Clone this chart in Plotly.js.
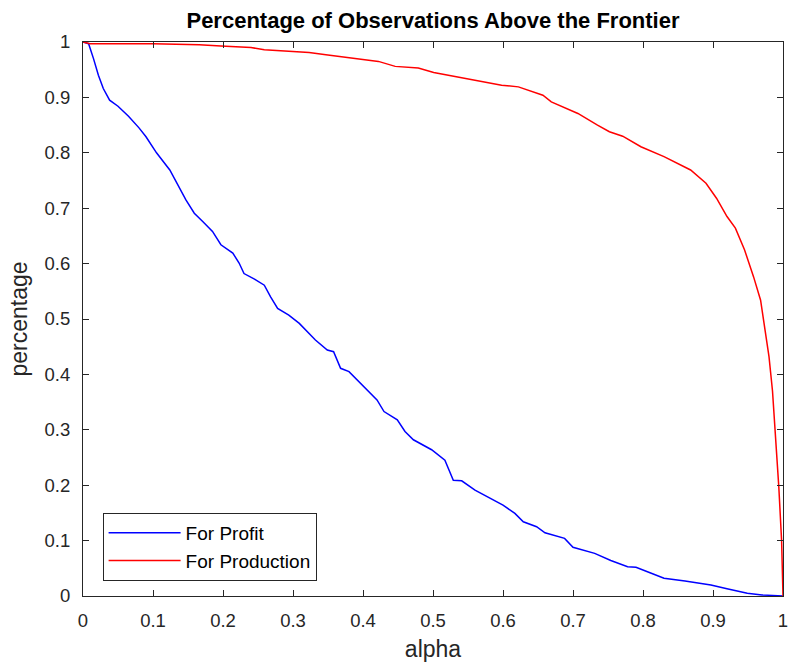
<!DOCTYPE html>
<html>
<head>
<meta charset="utf-8">
<script src="https://cdn.plot.ly/plotly-3.0.1.min.js"></script>
<style>html,body{margin:0;padding:0;background:#fff;}#chart{width:788px;height:666px;}</style>
</head>
<body>
<div id="chart"></div>
<script>
var profitAlpha = [0, 0.008, 0.015, 0.022, 0.029, 0.038, 0.05, 0.065, 0.08, 0.09, 0.105, 0.124, 0.147, 0.159, 0.171, 0.185, 0.197, 0.214, 0.223, 0.23, 0.245, 0.259, 0.268, 0.278, 0.294, 0.309, 0.332, 0.349, 0.358, 0.368, 0.38, 0.404, 0.42, 0.43, 0.449, 0.46, 0.472, 0.498, 0.517, 0.529, 0.541, 0.56, 0.588, 0.6, 0.617, 0.629, 0.648, 0.66, 0.688, 0.7, 0.731, 0.754, 0.778, 0.79, 0.81, 0.83, 0.86, 0.897, 0.92, 0.949, 0.97, 1.0];
var profitPct = [1, 0.997, 0.97, 0.94, 0.916, 0.895, 0.884, 0.866, 0.845, 0.829, 0.8, 0.769, 0.715, 0.691, 0.676, 0.658, 0.634, 0.619, 0.601, 0.582, 0.572, 0.561, 0.54, 0.519, 0.507, 0.492, 0.462, 0.444, 0.441, 0.411, 0.405, 0.375, 0.354, 0.333, 0.318, 0.297, 0.282, 0.264, 0.245, 0.209, 0.208, 0.191, 0.173, 0.164, 0.149, 0.134, 0.125, 0.114, 0.104, 0.088, 0.077, 0.064, 0.053, 0.052, 0.042, 0.032, 0.027, 0.02, 0.013, 0.005, 0.002, 0];

var prodAlpha = [0, 0.01, 0.1, 0.152, 0.166, 0.197, 0.24, 0.259, 0.323, 0.347, 0.403, 0.422, 0.446, 0.479, 0.501, 0.532, 0.56, 0.598, 0.622, 0.657, 0.669, 0.707, 0.735, 0.752, 0.771, 0.797, 0.83, 0.868, 0.89, 0.905, 0.92, 0.932, 0.945, 0.958, 0.968, 0.973, 0.98, 0.985, 0.989, 0.994, 0.998, 1.0];
var prodPct = [1, 0.997, 0.997, 0.996, 0.995, 0.993, 0.99, 0.986, 0.981, 0.977, 0.969, 0.965, 0.956, 0.953, 0.945, 0.938, 0.931, 0.922, 0.919, 0.904, 0.892, 0.871, 0.85, 0.838, 0.83, 0.811, 0.793, 0.769, 0.745, 0.718, 0.685, 0.664, 0.625, 0.576, 0.534, 0.49, 0.432, 0.37, 0.3, 0.197, 0.1, 0];

var seriesNames = ["For Profit", "For Production"];
var xTicks = [0, 0.1, 0.2, 0.3, 0.4, 0.5, 0.6, 0.7, 0.8, 0.9, 1];
var yTicks = [0, 0.1, 0.2, 0.3, 0.4, 0.5, 0.6, 0.7, 0.8, 0.9, 1];

var FONT = "Liberation Sans, Arial, Helvetica, sans-serif";
var AX = "#262626";

var traces = [
  {x: profitAlpha, y: profitPct, name: seriesNames[0], type: "scatter", mode: "lines",
   line: {color: "#0000ff", width: 1.5}},
  {x: prodAlpha, y: prodPct, name: seriesNames[1], type: "scatter", mode: "lines",
   line: {color: "#ff0000", width: 1.5}}
];

function axis(titleText, ticks, standoff) {
  return {
    range: [0, 1], tickmode: "array", tickvals: ticks, ticktext: ticks.map(String),
    ticks: "inside", ticklen: 6, tickwidth: 1, tickcolor: AX,
    showline: true, linecolor: AX, linewidth: 1, mirror: "allticks",
    showgrid: false, zeroline: false, fixedrange: true,
    tickfont: {family: FONT, size: 18.5, color: AX},
    ticklabelstandoff: 8, ticklabeloverflow: "allow",
    title: {text: titleText, font: {family: FONT, size: 23, color: AX}, standoff: standoff}
  };
}

var layout = {
  width: 788, height: 666,
  margin: {l: 83, r: 5, t: 42, b: 70, pad: 0},
  paper_bgcolor: "#ffffff", plot_bgcolor: "#ffffff",
  title: {text: "<b>Percentage of Observations Above the Frontier</b>",
          font: {family: FONT, size: 22, color: "#000000"},
          xref: "paper", x: 0.5, xanchor: "center",
          yref: "container", y: 1 - 20.5/666, yanchor: "middle"},
  xaxis: axis("alpha", xTicks, 10),
  yaxis: axis("percentage", yTicks, 10),
  showlegend: true,
  legend: {x: 0.028, y: 0.15, xanchor: "left", yanchor: "top",
           bgcolor: "#ffffff", bordercolor: AX, borderwidth: 1,
           font: {family: FONT, size: 19, color: "#000000"},
           itemwidth: 72, tracegroupgap: 0}
};

Plotly.newPlot("chart", traces, layout, {staticPlot: true, displayModeBar: false});
</script>
</body>
</html>
